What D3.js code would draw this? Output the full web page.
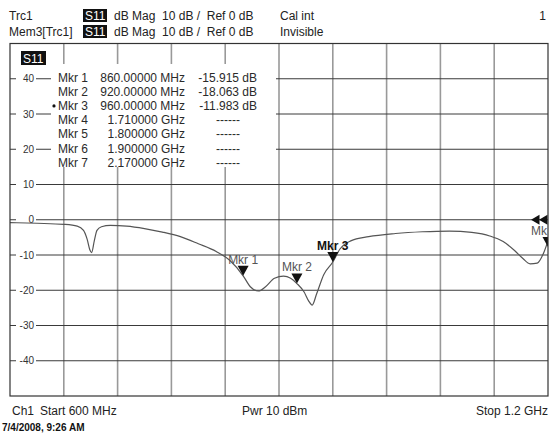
<!DOCTYPE html>
<html>
<head>
<meta charset="utf-8">
<script src="https://cdn.jsdelivr.net/npm/d3@7"></script>
<style>
  body { margin: 0; background: #fff; }
  svg { display: block; font-family: "Liberation Sans", Arial, sans-serif; }
</style>
</head>
<body>
<div id="chart"></div>
<script>
// trace (S11, dB Mag)
const freqMHz = [600, 630, 660, 675, 682, 686, 689, 691, 694, 697, 702, 712, 730, 750, 770, 790,
                 810, 830, 845, 860, 868, 877, 885, 895, 905, 913, 920, 928, 933, 937, 942, 950,
                 960, 968, 980, 1000, 1030, 1060, 1090, 1115, 1135, 1150, 1163, 1172, 1180, 1188,
                 1195, 1200];
const s11dB = [-0.8, -1.0, -1.3, -1.8, -3.0, -5.5, -8.5, -9.3, -6.0, -3.0, -2.0, -1.6, -1.8, -2.5, -3.5, -4.8,
               -6.8, -9.0, -11.5, -15.9, -19.0, -20.2, -19.0, -16.6, -16.0, -16.6, -18.1, -20.5, -23.0, -24.2, -21.0, -15.5,
               -12.0, -8.3, -6.0, -4.8, -3.9, -3.4, -3.2, -3.6, -4.6, -6.2, -8.8, -11.0, -12.5, -12.3,
               -9.5, -6.0];

const yTicks = [40, 30, 20, 10, 0, -10, -20, -30, -40];

const mkrNames = ["Mkr 1", "Mkr 2", "Mkr 3", "Mkr 4", "Mkr 5", "Mkr 6", "Mkr 7"];
const mkrStim = ["860.00000 MHz", "920.00000 MHz", "960.00000 MHz", "1.710000 GHz",
                 "1.800000 GHz", "1.900000 GHz", "2.170000 GHz"];
const mkrResp = ["-15.915 dB", "-18.063 dB", "-11.983 dB", "------", "------", "------", "------"];
const mkrFreq = [860, 920, 960];
const mkrVal = [-15.915, -18.063, -11.983];

const W = 549, H = 435;
const plot = { left: 10, right: 548, top: 43.5, bottom: 396 };

const x = d3.scaleLinear().domain([600, 1200]).range([plot.left, plot.right]);
const y = d3.scaleLinear().domain([-50, 50]).range([plot.bottom, plot.top]);

const svg = d3.select("#chart").append("svg")
    .attr("width", W)
    .attr("height", H);

svg.append("defs").append("clipPath").attr("id", "clip")
  .append("rect")
    .attr("x", plot.left).attr("y", plot.top)
    .attr("width", plot.right - plot.left).attr("height", plot.bottom - plot.top);

// header lines
const header = [
  { name: "Trc1", cal: "Cal int", y: 20 },
  { name: "Mem3[Trc1]", cal: "Invisible", y: 36 }
];
header.forEach(h => {
  svg.append("text").attr("x", 9).attr("y", h.y)
    .attr("font-size", 12).attr("fill", "#222").text(h.name);
  svg.append("rect").attr("x", 83).attr("y", h.y - 11).attr("width", 24).attr("height", 13)
    .attr("fill", "#111");
  svg.append("text").attr("x", 85).attr("y", h.y)
    .attr("font-size", 12).attr("fill", "#fff").text("S11");
  svg.append("text").attr("x", 114).attr("y", h.y)
    .attr("font-size", 12).attr("fill", "#222").attr("xml:space", "preserve")
    .text("dB Mag  10 dB /  Ref 0 dB");
  svg.append("text").attr("x", 280).attr("y", h.y)
    .attr("font-size", 12).attr("fill", "#222").text(h.cal);
});
svg.append("text").attr("x", 546).attr("y", 20).attr("text-anchor", "end")
  .attr("font-size", 12).attr("fill", "#222").text("1");

// grid
const g = svg.append("g");
g.selectAll(".vgrid")
  .data(d3.range(660, 1200, 60))
  .join("line")
    .attr("class", "vgrid")
    .attr("x1", d => x(d)).attr("x2", d => x(d))
    .attr("y1", plot.top).attr("y2", plot.bottom)
    .attr("stroke", "#999").attr("stroke-width", 1.6);

g.selectAll(".hgrid")
  .data(yTicks)
  .join("line")
    .attr("class", "hgrid")
    .attr("x1", plot.left).attr("x2", plot.right)
    .attr("y1", d => y(d)).attr("y2", d => y(d))
    .attr("stroke", "#3a3a3a").attr("stroke-width", 1);

// y labels with white gap in the line
const lab = g.selectAll(".ylab").data(yTicks).join("g").attr("class", "ylab");
lab.append("rect")
  .attr("x", 16).attr("y", d => y(d) - 6).attr("width", 20).attr("height", 12)
  .attr("fill", "#fff");
lab.append("text")
  .attr("x", 34).attr("y", d => y(d) + 3.5)
  .attr("text-anchor", "end")
  .attr("font-size", 10).attr("fill", "#333")
  .text(d => d);

// marker table (white box over the grid)
svg.append("rect").attr("x", 51).attr("y", 64).attr("width", 225).attr("height", 103)
  .attr("fill", "#fff");

svg.append("rect").attr("x", 21).attr("y", 51).attr("width", 25).attr("height", 14).attr("fill", "#111");
svg.append("text").attr("x", 23).attr("y", 62.5).attr("font-size", 12).attr("fill", "#fff").text("S11");

const rowY = i => 81.5 + i * 14.2;
const table = svg.append("g").attr("font-size", 12).attr("fill", "#2a2a2a");
table.selectAll(".mname").data(mkrNames).join("text")
  .attr("x", 58).attr("y", (d, i) => rowY(i)).text(d => d);
table.selectAll(".mstim").data(mkrStim).join("text")
  .attr("x", 185).attr("y", (d, i) => rowY(i)).attr("text-anchor", "end").text(d => d);
table.selectAll(".mresp").data(mkrResp).join("text")
  .attr("x", (d) => d.length > 6 ? 257 : 228)
  .attr("y", (d, i) => rowY(i))
  .attr("text-anchor", d => d.length > 6 ? "end" : "middle")
  .text(d => d);
// active marker dot
svg.append("circle").attr("cx", 54).attr("cy", rowY(2) - 4).attr("r", 1.6).attr("fill", "#111");

// trace
const line = d3.line()
  .x((d, i) => x(freqMHz[i]))
  .y(d => y(d))
  .curve(d3.curveMonotoneX);

const plotArea = svg.append("g").attr("clip-path", "url(#clip)");
plotArea.append("path")
  .datum(s11dB)
  .attr("d", line)
  .attr("fill", "none")
  .attr("stroke", "#555")
  .attr("stroke-width", 1.2);

// markers on the trace
const mk = plotArea.selectAll(".mkr").data(mkrFreq).join("g").attr("class", "mkr");
mk.append("path")
  .attr("d", (d, i) => {
    const px = x(d), py = y(mkrVal[i]);
    return `M${px},${py} L${px - 5.5},${py - 10} L${px + 5.5},${py - 10} Z`;
  })
  .attr("fill", "#111");
mk.append("text")
  .attr("x", d => x(d))
  .attr("y", (d, i) => y(mkrVal[i]) - 12)
  .attr("text-anchor", "middle")
  .attr("font-size", 12)
  .attr("font-weight", (d, i) => i === 2 ? "bold" : "normal")
  .attr("fill", (d, i) => i === 2 ? "#111" : "#555")
  .text((d, i) => mkrNames[i]);

// off-screen markers at the right edge
const edgeY = y(0);
[531, 539].forEach(ex => {
  plotArea.append("path")
    .attr("d", `M${ex},${edgeY} L${ex + 8.5},${edgeY - 5} L${ex + 8.5},${edgeY + 5} Z`)
    .attr("fill", "#111");
});
svg.append("text").attr("x", 531).attr("y", 235)
  .attr("font-size", 12).attr("fill", "#555").text("Mk");
plotArea.append("path")
  .attr("d", `M${plot.right},${247} L${plot.right - 5.5},${237} L${plot.right + 5.5},${237} Z`)
  .attr("fill", "#111");

// frame
svg.append("rect")
  .attr("x", plot.left).attr("y", plot.top)
  .attr("width", plot.right - plot.left).attr("height", plot.bottom - plot.top)
  .attr("fill", "none").attr("stroke", "#333").attr("stroke-width", 1.2);

// footer
const foot = svg.append("g").attr("font-size", 12).attr("fill", "#222").attr("xml:space", "preserve");
foot.append("text").attr("x", 12).attr("y", 415).text("Ch1");
foot.append("text").attr("x", 40).attr("y", 415).text("Start  600 MHz");
foot.append("text").attr("x", 242).attr("y", 415).text("Pwr  10 dBm");
foot.append("text").attr("x", 548).attr("y", 415).attr("text-anchor", "end").text("Stop  1.2 GHz");
svg.append("text").attr("x", 2).attr("y", 431)
  .attr("font-size", 10).attr("font-weight", "bold").attr("fill", "#111")
  .text("7/4/2008, 9:26 AM");
</script>
</body>
</html>
